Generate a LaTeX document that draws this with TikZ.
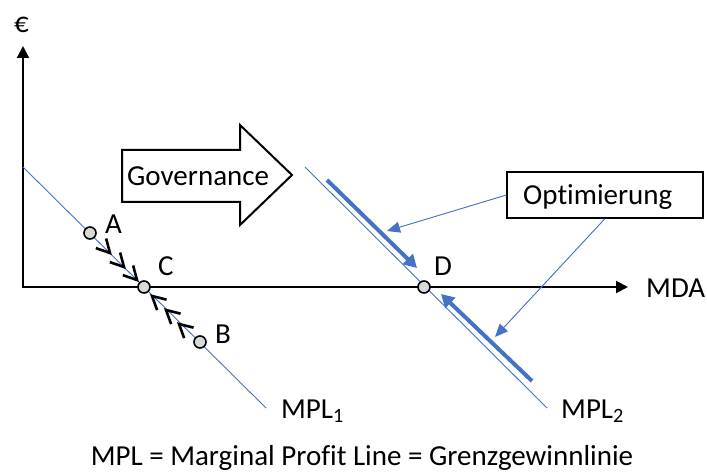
\documentclass[tikz,border=0pt]{standalone}
\usepackage{fontspec}
\setmainfont[Ligatures={NoCommon}]{Carlito}
\usetikzlibrary{arrows.meta}
\definecolor{offblue}{HTML}{4472C4}
\definecolor{ptgray}{HTML}{D9D9D9}
\begin{document}
\begin{tikzpicture}[x=1pt,y=-1pt,
  lbl/.style={font=\fontsize{29}{34}\selectfont, inner sep=0pt, anchor=base west},
  axis/.style={line width=2pt, line join=miter, {Triangle[length=12pt,width=12pt]}-{Triangle[length=12pt,width=12pt]}},
  mpl/.style={draw=offblue, line width=0.9pt},
  thick arrow/.style={draw=offblue, line width=4pt, -{Triangle[length=13pt,width=14pt]}},
  thin arrow/.style={draw=offblue, fill=offblue, line width=0.9pt, -{Triangle[length=13pt,width=11pt]}},
  pt/.style={circle, draw=black, fill=ptgray, line width=1.6pt, minimum size=12pt, inner sep=0pt},
  chev/.style={line width=2.6pt, line cap=butt, line join=miter},
]
\useasboundingbox (0,0) rectangle (707,473);

% axes
\coordinate (O) at (23,287);
\coordinate (ytip) at (23,46);
\coordinate (xtip) at (628,287);
\draw[axis] (ytip) -- (O) -- (xtip);
\node[lbl] (euro) at (14,33) {€};
\node[lbl] (mda) at (646,297) {MDA};

% MPL lines
\coordinate (m1a) at (23,167);
\coordinate (m1b) at (266,408);
\coordinate (m2a) at (305,167);
\coordinate (m2b) at (547,408);
\draw[mpl] (m1a) -- (m1b);
\draw[mpl] (m2a) -- (m2b);
\node[lbl] (mpl1) at (281,418) {MPL\textsubscript{1}};
\node[lbl] (mpl2) at (561,418) {MPL\textsubscript{2}};

% chevrons A -> C
\foreach \p in {(110,253),(124,267),(137,280)}{
  \draw[chev] \p +(199:15) -- \p -- +(255:15);
}
% chevrons B -> C
\foreach \p in {(152,296),(166,310),(179,324)}{
  \draw[chev] \p +(14:15) -- \p -- +(70:15);
}

% points
\node[pt] (A) at (90,233) {};
\node[pt] (C) at (144,287) {};
\node[pt] (B) at (200,342) {};
\node[pt] (D) at (424,287) {};
\node[lbl] (lA) at (105,234) {A};
\node[lbl] (lC) at (158,276) {C};
\node[lbl] (lB) at (215,343) {B};
\node[lbl] (lD) at (434,276) {D};

% Governance block arrow
\draw[line width=2pt, line join=miter, fill=white]
  (122,150) -- (240,150) -- (240,125) -- (292,175) -- (240,225) -- (240,202) -- (122,202) -- cycle;
\node[lbl] (gov) at (127,186) {Governance};

% thick blue arrows
\coordinate (t1s) at (327,180);
\coordinate (t1e) at (417,268);
\coordinate (t2s) at (532,381);
\coordinate (t2e) at (441,294);
\draw[thick arrow] (t1s) -- (t1e);
\draw[thick arrow] (t2s) -- (t2e);

% Optimierung box
\node[draw=black, line width=1.2pt, minimum width=196pt, minimum height=46pt, inner sep=0pt] (opt) at (605,195) {};
\node[lbl] (optt) at (523,205) {Optimierung};
\coordinate (o1e) at (387,231);
\coordinate (o2e) at (495,337);
\draw[thin arrow] (opt.west) -- (o1e);
\draw[thin arrow] (opt.south) -- (o2e);

% caption
\node[font=\fontsize{29}{34}\selectfont, inner sep=0pt, anchor=base] (cap) at (362,465)
  {MPL = Marginal Profit Line = Grenzgewinnlinie};
\end{tikzpicture}
\end{document}
